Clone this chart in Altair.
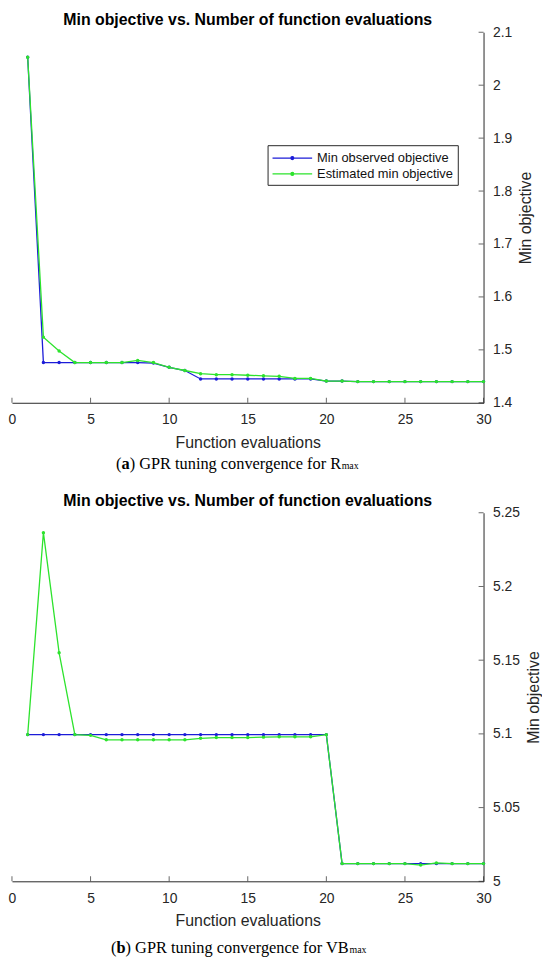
import altair as alt
import pandas as pd

# ---------------- data ----------------
evals = list(range(1, 31))
x_ticks = [0, 5, 10, 15, 20, 25, 30]

a_observed = [2.053, 1.476, 1.476, 1.476, 1.476, 1.476, 1.476, 1.476, 1.475, 1.467,
              1.461, 1.445, 1.445, 1.445, 1.445, 1.445, 1.445, 1.445, 1.445, 1.441,
              1.441, 1.440, 1.440, 1.440, 1.440, 1.440, 1.440, 1.440, 1.440, 1.440]
a_estimated = [2.053, 1.524, 1.498, 1.476, 1.476, 1.476, 1.476, 1.480, 1.476, 1.467,
               1.461, 1.455, 1.453, 1.453, 1.452, 1.451, 1.450, 1.446, 1.446, 1.441,
               1.441, 1.440, 1.440, 1.440, 1.440, 1.440, 1.440, 1.440, 1.440, 1.440]
a_y_domain = [1.4, 2.1]
a_y_ticks = [1.4, 1.5, 1.6, 1.7, 1.8, 1.9, 2.0, 2.1]

b_observed = [5.0995, 5.0995, 5.0995, 5.0995, 5.0995, 5.0995, 5.0995, 5.0995, 5.0995, 5.0995,
              5.0995, 5.0995, 5.0995, 5.0995, 5.0995, 5.0995, 5.0995, 5.0995, 5.0995, 5.0995,
              5.012, 5.012, 5.012, 5.012, 5.012, 5.012, 5.012, 5.012, 5.012, 5.012]
b_estimated = [5.0995, 5.2365, 5.155, 5.0995, 5.099, 5.096, 5.096, 5.096, 5.096, 5.096,
               5.096, 5.097, 5.0975, 5.0975, 5.0975, 5.0978, 5.098, 5.098, 5.098, 5.0995,
               5.012, 5.012, 5.012, 5.012, 5.012, 5.011, 5.0125, 5.012, 5.012, 5.012]
b_y_domain = [5.0, 5.25]
b_y_ticks = [5.0, 5.05, 5.1, 5.15, 5.2, 5.25]

series_names = ["Min observed objective", "Estimated min objective"]
series_colors = ["#1c1cd8", "#2de32d"]

chart_title = "Min objective vs. Number of function evaluations"
x_title = "Function evaluations"
y_title = "Min objective"

caption_letters = ["a", "b"]
caption_bodies = [") GPR tuning convergence for R", ") GPR tuning convergence for VB"]
caption_subs = ["max", "max"]

# ---------------- styling ----------------
AX = "#262626"
SANS = "Liberation Sans"
SERIF = "Liberation Serif"
W = 476
# legend symbol: a 40px line with a small dot in its middle (unit = 8px)
LEGEND_SYMBOL = ("M-1,0L4,0M1.31,0a0.19,0.19 0 1,0 0.38,0"
                 "a0.19,0.19 0 1,0 -0.38,0")


def panel(observed, estimated, y_domain, y_ticks, height, legend_y):
    df = pd.DataFrame({
        "evals": evals + evals,
        "value": observed + estimated,
        "series": [series_names[0]] * len(evals) + [series_names[1]] * len(evals),
    })
    x = alt.X("evals:Q", scale=alt.Scale(domain=[0, 30], nice=False),
              axis=alt.Axis(values=x_ticks, ticks=False, grid=False,
                            domainColor=AX, domainWidth=1,
                            labelColor=AX, labelFont=SANS, labelFontSize=14,
                            labelPadding=10, labelFlush=False,
                            title=x_title, titleFont=SANS, titleFontSize=16,
                            titleFontWeight="normal", titleColor=AX,
                            titlePadding=8))
    y = alt.Y("value:Q", scale=alt.Scale(domain=y_domain, nice=False, zero=False),
              axis=alt.Axis(orient="right", values=y_ticks, format="~g",
                            ticks=False, grid=False,
                            domainColor=AX, domainWidth=1,
                            labelColor=AX, labelFont=SANS, labelFontSize=14,
                            labelPadding=9, labelFlush=False,
                            title=y_title, titleFont=SANS, titleFontSize=16,
                            titleFontWeight="normal", titleColor=AX,
                            titleAngle=270, titleBaseline="top", titlePadding=6))
    color = alt.Color("series:N",
                      scale=alt.Scale(domain=series_names, range=series_colors),
                      legend=alt.Legend(title=None, orient="none",
                                        legendX=258, legendY=legend_y,
                                        fillColor="white", strokeColor=AX,
                                        padding=4, rowPadding=0,
                                        labelFont=SANS, labelFontSize=13,
                                        labelColor="#111111", labelOffset=28,
                                        symbolType=LEGEND_SYMBOL, symbolSize=256,
                                        symbolStrokeWidth=1.2))
    layers = []
    for name in series_names:
        base = alt.Chart(df).transform_filter(alt.datum.series == name).encode(
            x=x, y=y, color=color)
        layers.append(base.mark_line(strokeWidth=1.3))
        layers.append(base.mark_circle(size=12, opacity=1))

    xt_df = pd.DataFrame({"evals": x_ticks, "value": [y_domain[0]] * len(x_ticks)})
    yt_df = pd.DataFrame({"evals": [30] * len(y_ticks), "value": y_ticks})
    layers.append(alt.Chart(xt_df).mark_tick(orient="vertical", size=5, thickness=1,
                                             yOffset=-2.5, color=AX).encode(x=x, y=y))
    layers.append(alt.Chart(yt_df).mark_tick(orient="horizontal", size=5, thickness=1,
                                             xOffset=-2.5, color=AX).encode(x=x, y=y))
    return alt.layer(*layers).properties(
        width=W, height=height,
        title=alt.TitleParams(chart_title, font=SANS, fontSize=16, fontWeight="bold",
                              color="black", anchor="middle", offset=-3))


def caption(i, x0, height, base_y):
    fs = 16.5
    letter_w = 8.3 if i == 0 else 9.2
    body_w = 214 if i == 0 else 226
    pieces = [
        ("(", "normal", fs, x0),
        (caption_letters[i], "bold", fs, x0 + 5.5),
        (caption_bodies[i], "normal", fs, x0 + 5.5 + letter_w),
        (caption_subs[i], "normal", 10, x0 + 5.5 + letter_w + body_w),
    ]
    layers = []
    for text, weight, size, px in pieces:
        layers.append(
            alt.Chart(pd.DataFrame({"t": [text]})).mark_text(
                align="left", baseline="alphabetic", font=SERIF, fontSize=size,
                fontWeight=weight, color="black").encode(
                x=alt.value(px), y=alt.value(base_y), text="t:N"))
    return alt.layer(*layers).properties(width=W, height=height)


top = panel(a_observed, a_estimated, a_y_domain, a_y_ticks, 374, 114)
bottom = panel(b_observed, b_estimated, b_y_domain, b_y_ticks, 372, 6)

chart = alt.vconcat(
    top, caption(0, 105, 43, 19), bottom, caption(1, 100, 32, 24), spacing=0
).properties(padding=0).configure_view(stroke=None)

chart.save("out.html", embed_options={"renderer": "svg", "actions": False})
